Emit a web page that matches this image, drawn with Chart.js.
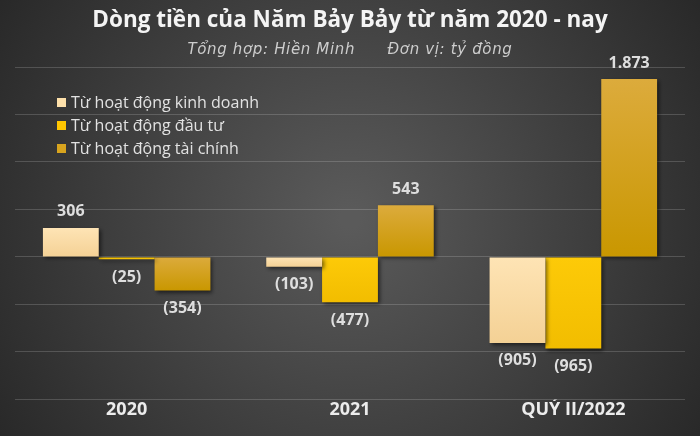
<!DOCTYPE html>
<html>
<head>
<meta charset="utf-8">
<script src="https://cdn.jsdelivr.net/npm/chart.js@4.4.0/dist/chart.umd.min.js"></script>
<style>
html,body{margin:0;padding:0;background:#333;}
#wrap{width:700px;height:436px;position:relative;}
</style>
</head>
<body>
<div id="wrap"><canvas id="c" width="700" height="436"></canvas></div>
<script>
const categories = ["2020", "2021", "QUÝ II/2022"];
const seriesNames = ["Từ hoạt động kinh doanh", "Từ hoạt động đầu tư", "Từ hoạt động tài chính"];
const kinhDoanh = [306, -103, -905];
const dauTu = [-25, -477, -965];
const taiChinh = [-354, 543, 1873];
const titleText = "Dòng tiền của Năm Bảy Bảy từ năm 2020 - nay";
const subtitleText = "Tổng hợp: Hiền Minh      Đơn vị: tỷ đồng";

const gradTop = ["#fee4b5", "#fdca08", "#dcab3c"];
const gradBottom = ["#f4d195", "#f2bd00", "#c99700"];
const legendColors = ["#fde0aa", "#ffc600", "#d8a41e"];

function fmt(v){
  const s = Math.abs(v).toString().replace(/\B(?=(\d{3})+(?!\d))/g, ".");
  return v < 0 ? "(" + s + ")" : s;
}

function barFill(i){
  return function(ctx){
    const chart = ctx.chart;
    const ys = chart.scales && chart.scales.y;
    if (!ys || ctx.type !== 'data' || !isFinite(ys.top)) return gradBottom[i];
    const v = ctx.raw;
    const a = ys.getPixelForValue(0), b = ys.getPixelForValue(v);
    const t = Math.min(a, b), bt = Math.max(a, b);
    if (!isFinite(t) || bt - t < 1) return gradBottom[i];
    const g = chart.ctx.createLinearGradient(0, t, 0, bt);
    g.addColorStop(0, gradTop[i]);
    g.addColorStop(1, gradBottom[i]);
    return g;
  };
}

const bgPlugin = {
  id: 'bg',
  beforeDraw(chart){
    const ctx = chart.ctx, w = chart.width, h = chart.height;
    const g = ctx.createRadialGradient(w*0.5, h*0.5, 10, w*0.5, h*0.5, w*0.62);
    g.addColorStop(0, "#5a5a5a");
    g.addColorStop(1, "#262626");
    ctx.save();
    ctx.fillStyle = g;
    ctx.fillRect(0, 0, w, h);
    ctx.restore();
  }
};

const shadowPlugin = {
  id: 'shadow',
  beforeDatasetsDraw(chart){
    const ctx = chart.ctx;
    ctx.save();
    ctx.shadowColor = "rgba(0,0,0,0.55)";
    ctx.shadowBlur = 4;
    ctx.shadowOffsetX = 2;
    ctx.shadowOffsetY = 2;
  },
  afterDatasetsDraw(chart){
    chart.ctx.restore();
  }
};

const labelPlugin = {
  id: 'vlabels',
  afterDatasetsDraw(chart){
    const ctx = chart.ctx;
    ctx.save();
    ctx.font = "bold 16px 'Open Sans', sans-serif";
    ctx.fillStyle = "#dedede";
    ctx.textAlign = "center";
    ctx.textBaseline = "middle";
    chart.data.datasets.forEach((ds, i) => {
      const meta = chart.getDatasetMeta(i);
      meta.data.forEach((bar, j) => {
        const v = ds.data[j];
        const y = v >= 0 ? bar.y - 16 : bar.y + 18;
        ctx.fillText(fmt(v), bar.x, y);
      });
    });
    ctx.restore();
  }
};

const textPlugin = {
  id: 'legendAndSub',
  afterDraw(chart){
    const ctx = chart.ctx;
    ctx.save();
    // subtitle
    ctx.font = "italic 15px 'DejaVu Sans', sans-serif";
    try { ctx.letterSpacing = "0.65px"; } catch(e) {}
    ctx.fillStyle = "#cdcdcd";
    ctx.textAlign = "center";
    ctx.textBaseline = "middle";
    ctx.fillText(subtitleText, 350, 50);
    try { ctx.letterSpacing = "0px"; } catch(e) {}
    // legend
    ctx.textAlign = "left";
    ctx.font = "16px 'Open Sans', sans-serif";
    const ys = [103, 126, 149];
    chart.data.datasets.forEach((ds, i) => {
      ctx.fillStyle = legendColors[i];
      ctx.fillRect(57, ys[i] - 5, 9, 9);
      ctx.fillStyle = "#e2e2e2";
      ctx.fillText(ds.label, 71, ys[i]);
    });
    ctx.restore();
  }
};

new Chart(document.getElementById('c'), {
  type: 'bar',
  data: {
    labels: categories,
    datasets: [
      {label: seriesNames[0], data: kinhDoanh, backgroundColor: barFill(0)},
      {label: seriesNames[1], data: dauTu, backgroundColor: barFill(1)},
      {label: seriesNames[2], data: taiChinh, backgroundColor: barFill(2)}
    ]
  },
  options: {
    responsive: false,
    animation: false,
    layout: {padding: {left: 15, right: 15, top: 0, bottom: 15}},
    datasets: {bar: {categoryPercentage: 0.75, barPercentage: 1.0}},
    plugins: {
      legend: {display: false},
      tooltip: {enabled: false},
      title: {
        display: true,
        text: titleText,
        color: "#f4f4f4",
        font: {family: "'Open Sans', sans-serif", size: 22.5, weight: 'bold'},
        padding: {top: 7, bottom: 33}
      }
    },
    scales: {
      x: {
        grid: {display: false, drawTicks: false},
        border: {display: false},
        ticks: {color: "#ececec", font: {family: "'Open Sans', sans-serif", size: 18, weight: 'bold'}, padding: 0}
      },
      y: {
        min: -1500, max: 2000,
        ticks: {display: false, stepSize: 500},
        grid: {color: "rgba(255,255,255,0.17)", drawTicks: false},
        border: {display: false}
      }
    }
  },
  plugins: [bgPlugin, shadowPlugin, labelPlugin, textPlugin]
});
</script>
</body>
</html>
